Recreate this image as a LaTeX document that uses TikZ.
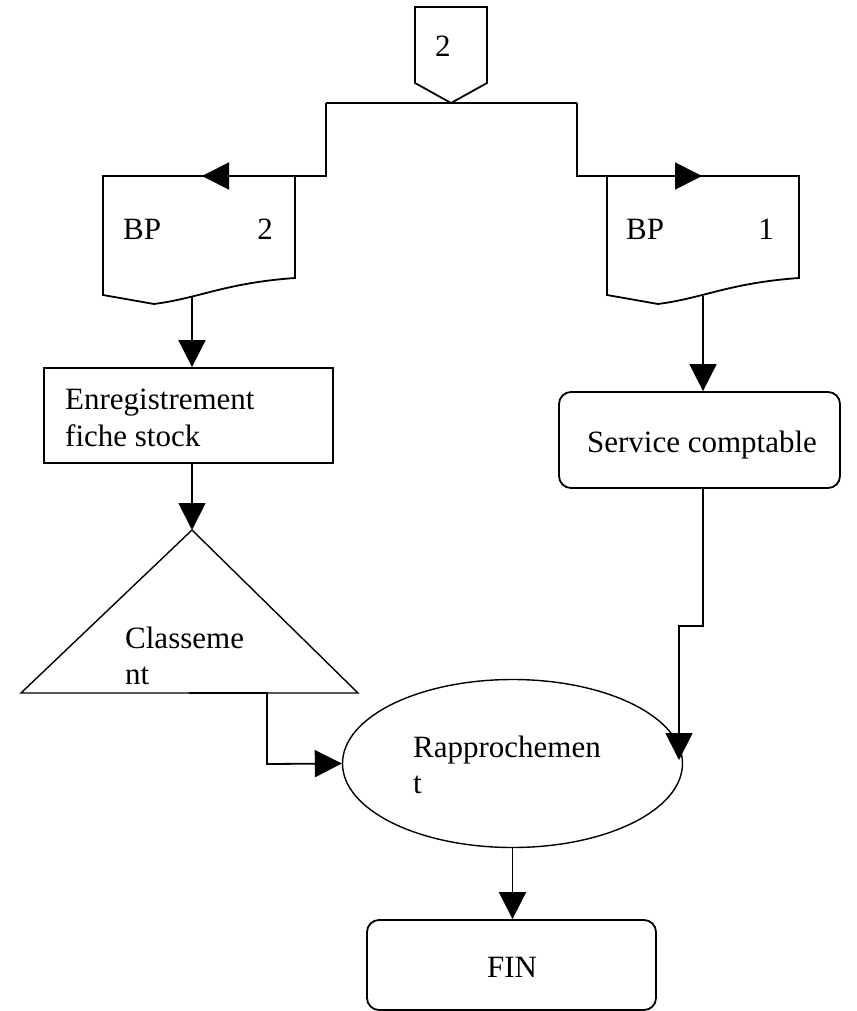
\documentclass[tikz,border=0pt]{standalone}
\usepackage{fontspec}
\setmainfont{Liberation Serif}
\usetikzlibrary{arrows.meta,shapes.geometric}
\begin{document}
\begin{tikzpicture}[x=1pt,y=-1pt,
  line/.style={line width=1.8pt, line join=miter},
  thinline/.style={line width=1.4pt, line join=miter},
  arr/.style={line, -{Triangle[length=27pt,width=27pt]}},
  boxshape/.style={line, draw, inner sep=0pt},
  lbl/.style={inner sep=0pt, font=\fontsize{31}{37}\selectfont},
  ]
\useasboundingbox (0,0) rectangle (856,1011);

% off-page connector "2"
\draw[line] (415,7) -- (487,7) -- (487,83) -- (451,103) -- (415,83) -- cycle;
\coordinate (off) at (451,103);
\node[lbl, anchor=base west] (offtxt) at (435,57) {2};

% split towards both copies of the BP
\coordinate (splitL) at (326,103);
\coordinate (splitR) at (577,103);
\coordinate (bp2in) at (202,176);
\coordinate (bp1in) at (702,176);
\draw[line] (splitL) -- (splitR);

% document BP 2
\draw[line] (103,176) -- (295,176) -- (295,278)
  .. controls (225,283) and (200,298) .. (154,304) -- (103,295) -- cycle;
\coordinate (bp2out) at (192,297);
\node[lbl, anchor=base west] (bp2a) at (123,239) {BP};
\node[lbl, anchor=base east] (bp2b) at (273,239) {2};

% document BP 1
\draw[line] (607,176) -- (799,176) -- (799,278)
  .. controls (729,283) and (704,298) .. (658,304) -- (607,295) -- cycle;
\coordinate (bp1out) at (703,296);
\node[lbl, anchor=base west] (bp1a) at (626,239) {BP};
\node[lbl, anchor=base east] (bp1b) at (774,239) {1};

\draw[arr] (splitL) -- (326,176) -- (bp2in);
\draw[arr] (splitR) -- (577,176) -- (bp1in);

% stock card entry
\node[boxshape, minimum width=289pt, minimum height=95pt] (enreg) at (188.5,415.5) {};
\node[lbl, anchor=base west] (enregA) at (65,409) {Enregistrement};
\node[lbl, anchor=base west] (enregB) at (65,446) {fiche stock};

% accounting department
\node[boxshape, rounded corners=12pt, minimum width=281pt, minimum height=96pt] (serv) at (699.5,440) {};
\node[lbl, anchor=base] (servtxt) at (702,452) {Service comptable};

% filing triangle
\coordinate (triTop) at (192,530);
\coordinate (triBase) at (189,693);
\draw[thinline] (21,693) -- (triTop) -- (358,693) -- cycle;
\node[lbl, anchor=base west] (clA) at (125,648) {Classeme};
\node[lbl, anchor=base west] (clB) at (125,684) {nt};

% reconciliation
\node[boxshape, thinline, draw, ellipse, inner sep=0pt, minimum width=340pt, minimum height=168pt] (rap) at (512.5,763.5) {};
\coordinate (rapR) at (679,760);
\node[lbl, anchor=base west] (rapA) at (413,757) {Rapprochemen};
\node[lbl, anchor=base west] (rapB) at (413,793) {t};

% end
\node[boxshape, rounded corners=12pt, minimum width=289pt, minimum height=90pt] (fin) at (511.5,965) {};
\node[lbl, anchor=base] (fintxt) at (512,977) {FIN};

% connectors
\draw[arr] (bp2out) -- (bp2out |- enreg.north);
\draw[arr] (bp1out) -- (bp1out |- serv.north);
\draw[arr] (triTop |- enreg.south) -- (triTop);
\draw[arr] (triBase) -- (267,693) -- (267,764) -- (rap.west);
\draw[arr] (bp1out |- serv.south) -- (703,626) -- (679,626) -- (rapR);
\draw[arr] (rap.south) -- (rap.south |- fin.north);
\end{tikzpicture}
\end{document}
